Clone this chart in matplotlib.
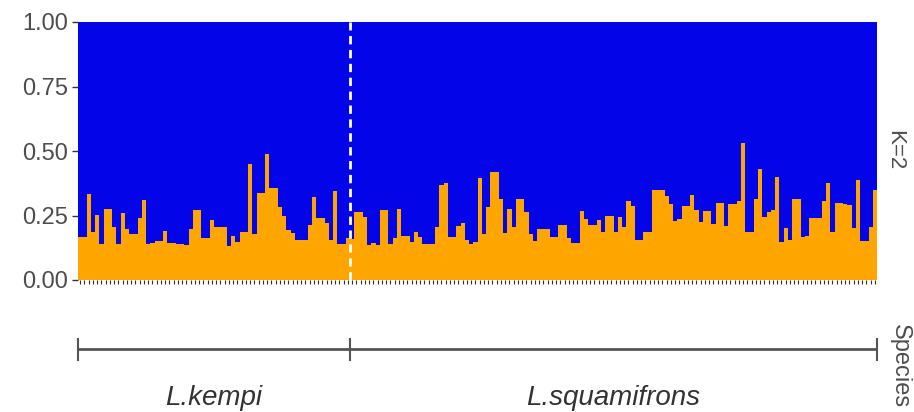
import numpy as np
import matplotlib
matplotlib.use("Agg")
import matplotlib.pyplot as plt

plt.rcParams["font.family"] = ["Liberation Sans", "DejaVu Sans"]

# admixture proportions (orange cluster), one value per individual
kempi = [0.167, 0.167, 0.333, 0.187, 0.252, 0.14, 0.275, 0.275, 0.205, 0.14,
         0.26, 0.197, 0.178, 0.178, 0.24, 0.31, 0.14, 0.145, 0.15, 0.15,
         0.19, 0.145, 0.145, 0.14, 0.14, 0.135, 0.197, 0.27, 0.27, 0.163,
         0.163, 0.233, 0.207, 0.207, 0.207, 0.13, 0.17, 0.149, 0.187, 0.187,
         0.45, 0.178, 0.338, 0.338, 0.488, 0.357, 0.357, 0.284, 0.248, 0.194,
         0.182, 0.155, 0.155, 0.155, 0.213, 0.323, 0.24, 0.24, 0.22, 0.155,
         0.345, 0.14, 0.14, 0.163]
squamifrons = [0.16, 0.265, 0.265, 0.245, 0.135, 0.145, 0.135, 0.27, 0.27, 0.14,
               0.163, 0.274, 0.17, 0.17, 0.149, 0.187, 0.165, 0.14, 0.14, 0.14,
               0.204, 0.37, 0.377, 0.165, 0.165, 0.209, 0.22, 0.155, 0.14, 0.149,
               0.394, 0.178, 0.282, 0.42, 0.42, 0.313, 0.183, 0.275, 0.204, 0.314,
               0.314, 0.265, 0.178, 0.151, 0.196, 0.196, 0.196, 0.165, 0.165, 0.213,
               0.213, 0.163, 0.145, 0.145, 0.269, 0.235, 0.213, 0.213, 0.233, 0.187,
               0.248, 0.248, 0.187, 0.243, 0.204, 0.307, 0.287, 0.155, 0.155, 0.187,
               0.187, 0.349, 0.349, 0.349, 0.326, 0.295, 0.23, 0.235, 0.287, 0.287,
               0.33, 0.27, 0.226, 0.269, 0.269, 0.217, 0.3, 0.3, 0.209, 0.295,
               0.295, 0.307, 0.53, 0.187, 0.187, 0.313, 0.429, 0.243, 0.265, 0.27,
               0.4, 0.149, 0.2, 0.155, 0.313, 0.313, 0.168, 0.17, 0.239, 0.239,
               0.239, 0.307, 0.375, 0.187, 0.3, 0.3, 0.295, 0.29, 0.2, 0.388,
               0.152, 0.152, 0.204, 0.349]
species = ["L.kempi", "L.squamifrons"]
yticks = [0.0, 0.25, 0.5, 0.75, 1.0]

q1 = np.array(kempi + squamifrons)
q2 = 1 - q1
n = len(q1)
x = np.arange(n)
split = len(kempi) - 0.5

W, H = 914, 412
fig = plt.figure(figsize=(W / 100, H / 100), dpi=100)
ax = fig.add_axes([78 / W, 132 / H, 799 / W, 258 / H])

ax.bar(x, q1, width=1.0, color="#ffa500", linewidth=0)
ax.bar(x, q2, bottom=q1, width=1.0, color="#0404e8", linewidth=0)
ax.axvline(split, color="white", linestyle=(0, (3, 2)), linewidth=2)

ax.set_xlim(-0.5, n - 0.5)
ax.set_ylim(0, 1)
ax.set_yticks(yticks)
ax.set_yticklabels([f"{t:.2f}" for t in yticks])
ax.set_xticks(x)
ax.set_xticklabels([])
ax.tick_params(axis="y", labelsize=17, labelcolor="#4d4d4d", color="#333333",
               length=4, width=1, pad=3)
ax.tick_params(axis="x", color="#333333", length=3, width=0.8)
for s in ax.spines.values():
    s.set_visible(False)

fig.text(895 / W, 1 - 150 / H, "K=2", rotation=-90, ha="center", va="center",
         fontsize=16, color="#4d4d4d")
fig.text(900 / W, 1 - 324 / H, "Species", rotation=-90, ha="center", va="top",
         fontsize=17, color="#4d4d4d")

# species bracket under the bars
ax2 = fig.add_axes([78 / W, 0, 799 / W, 132 / H])
ax2.set_xlim(-0.5, n - 0.5)
ax2.set_ylim(0, 132)
ax2.axis("off")
edges = [-0.5, split, n - 0.5]
ax2.plot([edges[0], edges[-1]], [63, 63], color="#555555", linewidth=2,
         clip_on=False, solid_capstyle="butt")
for e in edges:
    ax2.plot([e, e], [52, 73], color="#555555", linewidth=1.5, clip_on=False)
for i, name in enumerate(species):
    ax2.text((edges[i] + edges[i + 1]) / 2, 14, name, ha="center", va="center",
             fontsize=20, style="italic", color="#333333")

fig.savefig("out.png", dpi=100)
